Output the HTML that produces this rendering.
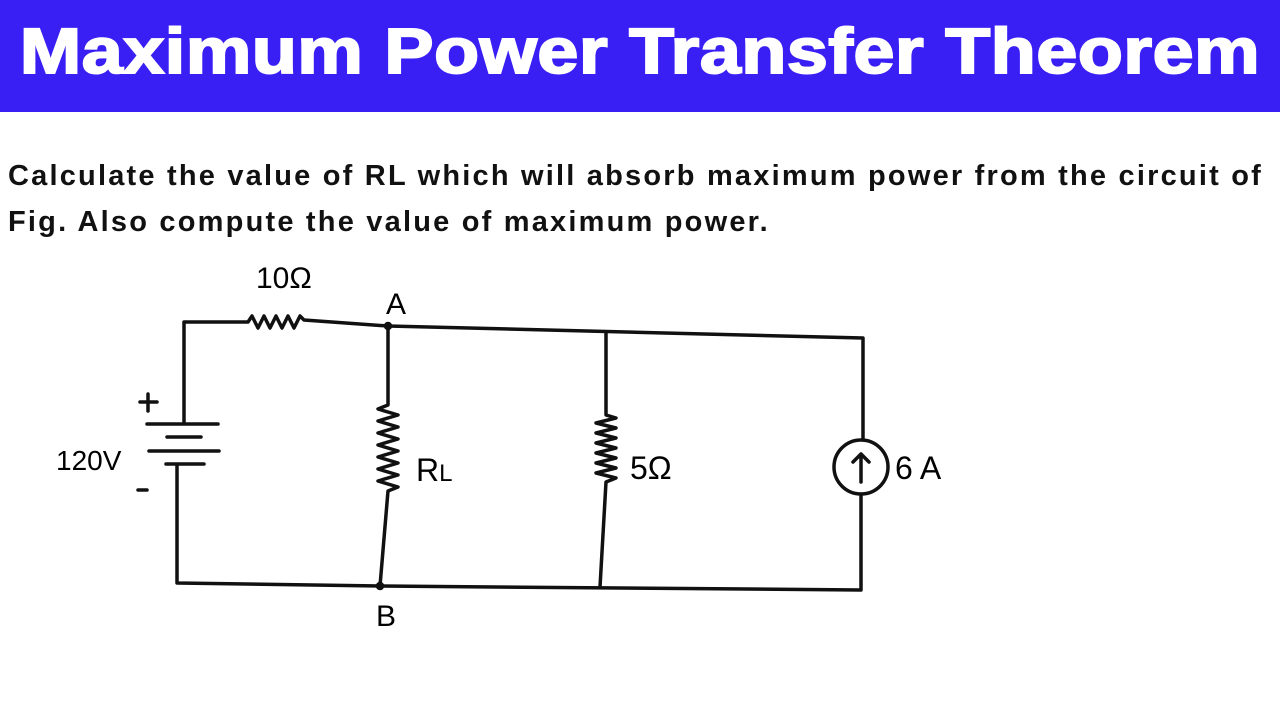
<!DOCTYPE html>
<html><head><style>
body{margin:0;width:1280px;height:720px;background:#fff;overflow:hidden;position:relative;font-family:"Liberation Sans",sans-serif}
.hd{position:absolute;left:0;top:0;width:1280px;height:112px;background:#3a1ff5;}
.hd div{position:absolute;left:0;top:14px;width:1280px;text-align:center;color:#fff;font-weight:900;font-size:64px;letter-spacing:0.5px;transform:scaleX(1.15);-webkit-text-stroke:2px #fff}
.q{position:absolute;left:8px;font-size:29px;font-weight:bold;color:#111;white-space:nowrap;letter-spacing:2.2px}
</style></head><body>
<div class="hd"><div>Maximum Power Transfer Theorem</div></div>
<div class="q" style="top:160px">Calculate the value of RL which will absorb maximum power from the circuit of</div>
<div class="q" style="top:206px">Fig. Also compute the value of maximum power.</div>
<svg width="1280" height="720" style="position:absolute;left:0;top:0" fill="none" stroke="#111" stroke-width="3.5" stroke-linecap="round" stroke-linejoin="round">
<path d="M184 423 V322 H248 l4 -6 l6 12 l6 -12 l6 12 l6 -12 l6 12 l6 -12 l6 12 l6 -12 l4 4 L388 326 L863 338 V440"/>
<circle cx="861" cy="467" r="27"/>
<path d="M861 482 V454 M853 462 l8 -8 l8 8"/>
<path d="M861 494 V590 L380 586 L177 583 V465"/>
<path d="M147 424 H218 M167 437 H201 M149 451 H219 M166 464 H204"/>
<path d="M388 326 V405 l-10 4 l20 6 l-20 6 l20 6 l-20 6 l20 6 l-20 6 l20 6 l-20 6 l20 6 l-20 6 l20 6 l-20 6 l20 6 l-10 4 L380 586"/>
<path d="M606 332 V415 l10 3 l-20 5 l20 5 l-20 5 l20 5 l-20 5 l20 5 l-20 5 l20 5 l-20 5 l20 5 l-20 5 l20 5 l-10 4 L600 587"/>
<circle cx="388" cy="326" r="2.5" fill="#111"/><circle cx="380" cy="586" r="2.5" fill="#111"/>
<path d="M140 402 H157 M148 394 V411 M138 490 H147" />
</svg>
<div style="position:absolute;left:256px;top:262px;font-size:30px">10Ω</div>
<div style="position:absolute;left:386px;top:288px;font-size:30px">A</div>
<div style="position:absolute;left:376px;top:600px;font-size:30px">B</div>
<div style="position:absolute;left:56px;top:445px;font-size:28px">120V</div>
<div style="position:absolute;left:416px;top:452px;font-size:32px">R<span style="font-size:24px">L</span></div>
<div style="position:absolute;left:630px;top:450px;font-size:32px">5Ω</div>
<div style="position:absolute;left:895px;top:450px;font-size:32px">6 A</div>
</body></html>
